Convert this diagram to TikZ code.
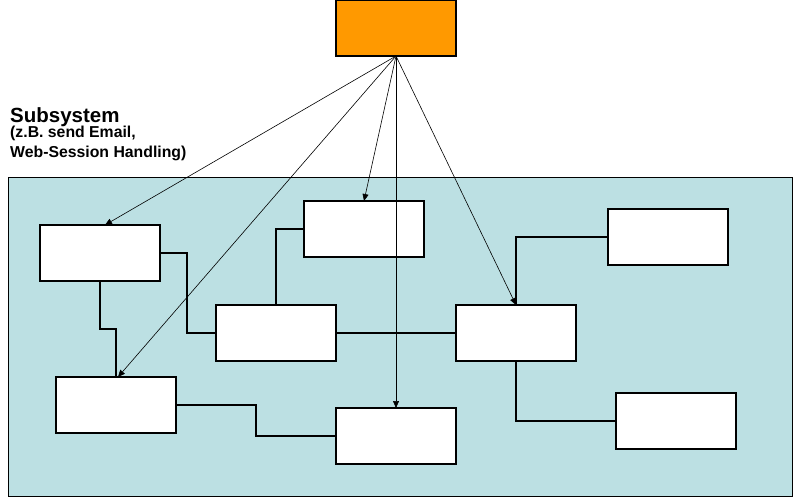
\documentclass[tikz,border=0pt]{standalone}
\usepackage{fontspec}
\setmainfont{Liberation Sans}
\usetikzlibrary{arrows.meta,calc}
\definecolor{orng}{HTML}{FF9900}
\definecolor{subblue}{HTML}{BCE0E3}
\begin{document}
\begin{tikzpicture}[x=1pt,y=-1pt,
  blk/.style={draw=black,line width=1.2pt,fill=white,minimum width=120pt,minimum height=56pt,inner sep=0pt,outer sep=0pt},
  topbox/.style={blk,fill=orng},
  link/.style={draw=black,line width=1.2pt},
  call/.style={draw=black,line width=0.6pt,-{Triangle[length=7pt,width=6pt]},shorten >=0pt},
  lbl/.style={anchor=base west,inner sep=0pt,font=\bfseries}]
\useasboundingbox (0,0) rectangle (795,499);
\fill[white] (0,0) rectangle (795,499);
\node[draw=black,line width=1.2pt,fill=subblue,minimum width=784pt,minimum height=319pt,inner sep=0pt,anchor=north west] (sub) at (8,177) {};
\node[lbl,font=\bfseries\fontsize{20.5}{24}\selectfont] (t1) at (10,122) {Subsystem};
\node[lbl,font=\bfseries\fontsize{15.8}{19}\selectfont] (t2) at (10,137) {(z.B. send Email,};
\node[lbl,font=\bfseries\fontsize{15.8}{19}\selectfont] (t3) at (10,157) {Web-Session Handling)};
\node[topbox] (O) at (396,28) {};
\node[blk] (A) at (100,253) {};
\node[blk] (B) at (364,229) {};
\node[blk] (C) at (668,237) {};
\node[blk] (D) at (276,333) {};
\node[blk] (E) at (516,333) {};
\node[blk] (F) at (116,405) {};
\node[blk] (G) at (396,436) {};
\node[blk] (H) at (676,421) {};
% connectors
\draw[link] (A.east) -- (187,253) |- (D.west);
\draw[link] (A.south) -- (100,329) -| (F.north);
\draw[link] (D.north) |- (B.west);
\draw[link] (D.east) -- (E.west);
\draw[link] (C.west) -| (E.north);
\draw[link] (E.south) |- (H.west);
\draw[link] (F.east) -- (256,405) |- (G.west);
% calls
\draw[call] (O.south) -- ($(A.north)+(5,0)$);
\draw[call] (O.south) -- ($(F.north)+(2,0)$);
\draw[call] (O.south) -- (B.north);
\draw[call] (O.south) -- (G.north);
\draw[call] (O.south) -- (E.north);
\end{tikzpicture}
\end{document}
